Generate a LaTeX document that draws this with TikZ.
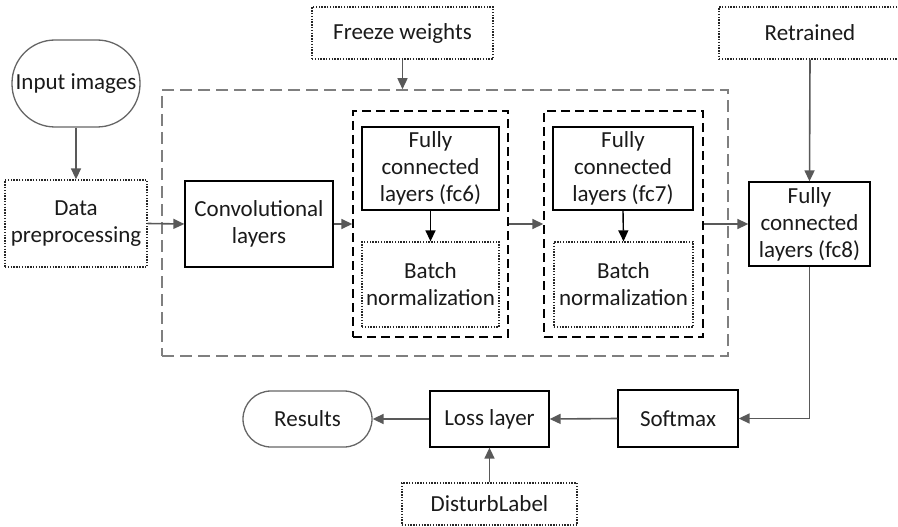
\documentclass[tikz,border=0pt]{standalone}
\usepackage{fontspec}
\setmainfont{Carlito}
\usetikzlibrary{arrows.meta}
\definecolor{arrgray}{HTML}{595959}
\definecolor{dashgray}{HTML}{7F7F7F}
\definecolor{txt}{HTML}{1A1A1A}
\tikzset{
  every node/.style={font=\fontsize{23}{27}\selectfont, text=txt, align=center, inner sep=0pt},
  solidbox/.style={draw=black, line width=1.3pt, rectangle},
  dotbox/.style={draw=black!85, line width=1.3pt, dash pattern=on 1.4pt off 1.4pt, rectangle},
  roundbox/.style={draw=black!60, line width=1.3pt, rectangle},
  bigdash/.style={draw=dashgray, line width=1.6pt, dash pattern=on 12pt off 6pt, rectangle},
  innerdash/.style={draw=black, line width=1.4pt, dash pattern=on 9pt off 5pt, rectangle},
  garrow/.style={draw=arrgray, line width=1.6pt, -{Triangle[length=11pt,width=10pt]}},
  barrow/.style={draw=black, line width=1.4pt, -{Triangle[length=11pt,width=10pt]}},
  sz/.style 2 args={minimum width=#1pt, minimum height=#2pt}
}
\begin{document}
\begin{tikzpicture}[x=1pt,y=-1pt]
\useasboundingbox (0,0) rectangle (898,527);

% containers
\node[bigdash, sz={566}{266}] (big) at (445,223) {};
\node[innerdash, sz={155}{226}] (in1) at (430.5,224) {};
\node[innerdash, sz={159}{226}] (in2) at (623.5,224) {};

% nodes
\node[roundbox, rounded corners=43pt, sz={128}{87}] (inp) at (76,83.5) {Input images};
\node[dotbox, sz={142}{87}] (data) at (76,223.5) {Data\\preprocessing};
\node[solidbox, sz={148}{86}] (conv) at (259,224) {Convolutional\\layers};
\node[solidbox, sz={137}{83}] (fc6) at (430.5,168.5) {Fully\\connected\\layers (fc6)};
\node[dotbox, sz={137}{85}] (bn1) at (430.5,284.5) {Batch\\normalization};
\node[solidbox, sz={140}{83}] (fc7) at (623,168.5) {Fully\\connected\\layers (fc7)};
\node[dotbox, sz={139}{85}] (bn2) at (623.5,284.5) {Batch\\normalization};
\node[dotbox, sz={181}{52}] (freeze) at (402.5,33) {Freeze weights};
\node[dotbox, sz={182}{52}] (retr) at (810,33) {Retrained};
\node[solidbox, sz={121}{84}] (fc8) at (809.5,224) {Fully\\connected\\layers (fc8)};
\node[solidbox, sz={120}{57}] (soft) at (678,418.5) {Softmax};
\node[solidbox, sz={119}{56}] (loss) at (489.5,419) {Loss layer};
\node[roundbox, rounded corners=28pt, sz={129}{56}] (res) at (307.5,419) {Results};
\node[dotbox, sz={175}{42}] (dist) at (489.5,504) {DisturbLabel};

% connectors
\draw[garrow] (inp.south) -- (data.north);
\draw[garrow] (data.east) -- (conv.west);
\draw[garrow] (conv.east) -- (conv.east -| in1.west);
\draw[garrow] (in1.east) -- (in2.west);
\draw[garrow] (in2.east) -- (fc8.west);
\draw[garrow] (freeze.south) -- (freeze.south |- big.north);
\draw[garrow] (retr.south) -- (fc8.north);
\draw[barrow] (fc6.south) -- (bn1.north);
\draw[barrow] (fc7.south) -- (bn2.north);
\draw[garrow] (fc8.south) |- (soft.east);
\draw[garrow] (soft.west) -- (loss.east);
\draw[garrow] (loss.west) -- (res.east);
\draw[garrow] (dist.north) -- (loss.south);
\end{tikzpicture}
\end{document}
